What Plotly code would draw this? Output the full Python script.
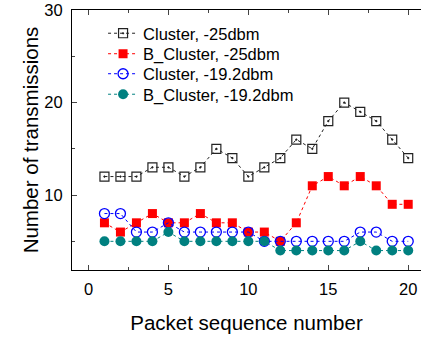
import plotly.graph_objects as go

packet_seq = list(range(1, 21))
cluster_25 = [12, 12, 12, 13, 13, 12, 13, 15, 14, 12, 13, 14, 16, 15, 18, 20, 19, 18, 16, 14]
b_cluster_25 = [7, 6, 7, 8, 7, 7, 8, 7, 7, 6, 6, 5, 7, 11, 12, 11, 12, 11, 9, 9]
cluster_19 = [8, 8, 6, 6, 7, 6, 6, 6, 6, 6, 5, 5, 5, 5, 5, 5, 6, 6, 5, 5]
b_cluster_19 = [5, 5, 5, 5, 6, 5, 5, 5, 5, 5, 5, 4, 4, 4, 4, 4, 5, 4, 4, 4]
names = ["Cluster, -25dbm", "B_Cluster, -25dbm", "Cluster, -19.2dbm", "B_Cluster, -19.2dbm"]

FONT = "Arial, Liberation Sans, sans-serif"

fig = go.Figure()
fig.add_trace(go.Scatter(x=packet_seq, y=cluster_25, name=names[0], mode="lines+markers", legend="legend",
                         line=dict(color="#222222", width=1, dash="dot"),
                         marker=dict(symbol="square-open-dot", size=9, color="#222222", line=dict(width=1.2))))
fig.add_trace(go.Scatter(x=packet_seq, y=b_cluster_25, name=names[1], mode="lines+markers", legend="legend2",
                         line=dict(color="#ff0000", width=1, dash="dot"),
                         marker=dict(symbol="square", size=9, color="#ff0000")))
fig.add_trace(go.Scatter(x=packet_seq, y=cluster_19, name=names[2], mode="lines+markers", legend="legend3",
                         line=dict(color="#0000ff", width=1, dash="dot"),
                         marker=dict(symbol="circle-open", size=10, color="#0000ff", line=dict(width=1.3))))
fig.add_trace(go.Scatter(x=packet_seq, y=b_cluster_19, name=names[3], mode="lines+markers", legend="legend4",
                         line=dict(color="#008080", width=1, dash="dot"),
                         marker=dict(symbol="circle", size=10, color="#008080")))

# plot area spans x 72..421, y 10..270
PLOT_H = 260.0
def leg(center_px):
    return dict(x=0.089, y=1 - (center_px - 10) / PLOT_H, xanchor="left", yanchor="middle",
                bgcolor="rgba(0,0,0,0)", font=dict(size=16.5, family=FONT))

fig.update_layout(
    width=421, height=337,
    margin=dict(l=72, r=0, t=10, b=67, autoexpand=False),
    plot_bgcolor="white", paper_bgcolor="white",
    font=dict(family=FONT, color="black", size=16.5),
    showlegend=True,
    legend=leg(33.5), legend2=leg(54), legend3=leg(74), legend4=leg(94.5),
)
fig.update_xaxes(range=[-1.03, 20.8], tickvals=[0, 5, 10, 15, 20], ticks="inside", ticklen=5,
                 showline=True, linecolor="black", linewidth=1, mirror="allticks",
                 showgrid=False, zeroline=False, tickfont=dict(size=16.5), ticklabelstandoff=4,
                 ticklabeloverflow="allow", automargin=False,
                 minor=dict(ticks="inside", ticklen=3, dtick=2.5, tick0=0, showgrid=False),
                 title=dict(text="Packet sequence number", font=dict(size=20.5), standoff=18))
fig.update_yaxes(range=[1.9, 30], tickvals=[10, 20, 30], ticks="inside", ticklen=5,
                 showline=True, linecolor="black", linewidth=1,
                 showgrid=False, zeroline=False, tickfont=dict(size=16.5), ticklabelstandoff=5,
                 ticklabeloverflow="allow", automargin=False,
                 minor=dict(ticks="inside", ticklen=3, dtick=5, tick0=0, showgrid=False),
                 title=dict(text="Number of transmissions", font=dict(size=20.5), standoff=0))

fig.write_html("out.html", config={"displayModeBar": False},
               post_script="document.body.style.margin='0';document.body.style.overflow='hidden';")
